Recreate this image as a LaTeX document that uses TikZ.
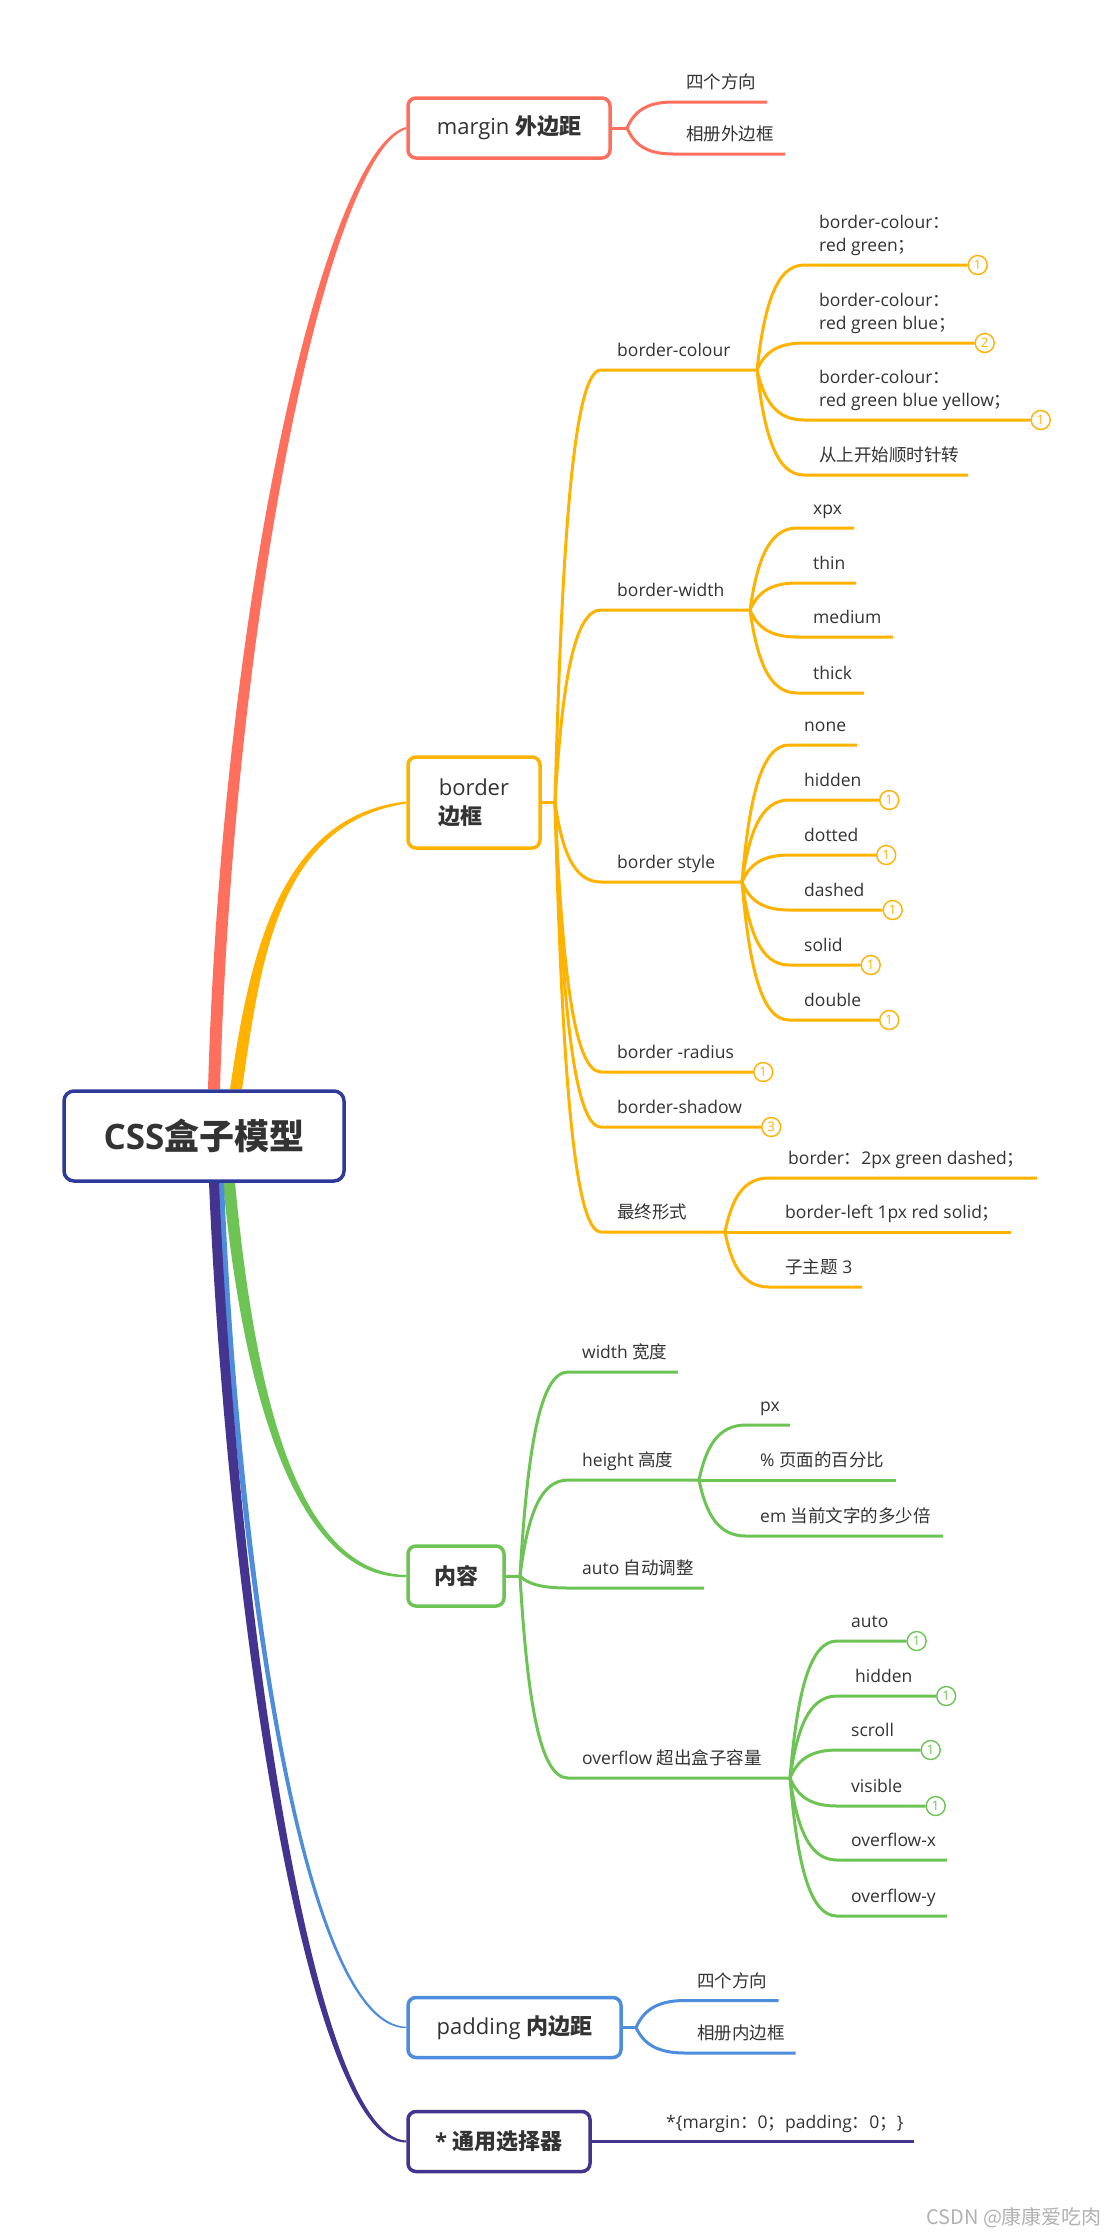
\documentclass[tikz,border=0pt]{standalone}
\usepackage{fontspec}
\setmainfont{Open Sans}
\newfontfamily\cjk{Noto Sans CJK SC}
\usetikzlibrary{calc}

\definecolor{txt}{HTML}{333333}
\definecolor{cRed}{HTML}{FE6F5E}
\definecolor{cOrg}{HTML}{FFB300}
\definecolor{cGrn}{HTML}{6DC455}
\definecolor{cBlu}{HTML}{4D8DDB}
\definecolor{cNav}{HTML}{45348F}
\definecolor{cRoot}{HTML}{2D3A9A}

\pgfdeclarelayer{bg}
\pgfdeclarelayer{limbs}
\pgfsetlayers{bg,limbs,main}

\tikzset{
  topic/.style={draw=#1, line width=3.5pt, rounded corners=8pt, fill=white,
    minimum height=60pt, inner sep=0pt, text=txt, font=\fontsize{22}{29}\selectfont},
  leaf/.style={anchor=base west, inner sep=0pt, text=txt, font=\fontsize{17.5}{23}\selectfont},
  sub/.style={draw=#1, line width=3pt},
  badge/.style={circle, draw=#1, fill=white, line width=1.4pt, text=#1, minimum size=19pt,
    inner sep=0pt, anchor=west, font=\fontsize{13}{13}\selectfont},
  twig/.style={to path={let \p1=(\tikztostart), \p2=(\tikztotarget) in
    .. controls ({\x1+0.15*(\x2-\x1)},{\y1+0.6*(\y2-\y1)}) and ({\x1+0.4*(\x2-\x1)},\y2) .. (\tikztotarget) \tikztonodes}},
}

\begin{document}
\begin{tikzpicture}[x=1pt,y=-1pt]
\begin{pgfonlayer}{bg}
\fill[white] (0,0) rectangle (1111,2235);
\end{pgfonlayer}
\useasboundingbox (0,0) rectangle (1111,2235);

% root and main topics
\node[topic=cRoot, rounded corners=10pt, minimum width=280pt, minimum height=90pt,
  font=\bfseries\fontsize{35}{40}\selectfont] (root) at (204,1136) {CSS{\cjk 盒子模型}};
\node[topic=cRed, minimum width=202pt] (margin) at (509,128) {margin {\cjk\bfseries 外边距}};
\node[topic=cOrg, minimum width=132pt, minimum height=91pt, align=left] (border) at (474,802.5) {border\\{\cjk\bfseries 边框}};
\node[topic=cGrn, minimum width=96pt] (content) at (456,1576) {\cjk\bfseries 内容};
\node[topic=cBlu, minimum width=213pt] (padding) at (514.5,2027.5) {padding {\cjk\bfseries 内边距}};
\node[topic=cNav, minimum width=182pt] (univ) at (499,2141.5) {\bfseries * {\cjk 通用选择器}};

% main branches
\begin{pgfonlayer}{limbs}
\fill[cRed] ([xshift=4pt]root.north) .. controls +(14,-491) and +(-81,20) .. ([yshift=1pt]margin.west)
  -- ([yshift=-1pt]margin.west) .. controls +(-75,24) and +(14,-491) .. ([xshift=16pt]root.north) -- cycle;
\fill[cOrg] ([xshift=26pt]root.north) .. controls +(19,-131) and +(-128,14) .. ([yshift=1pt]border.west)
  -- ([yshift=-1pt]border.west) .. controls +(-128,20) and +(19,-131) .. ([xshift=38pt]root.north) -- cycle;
\fill[cGrn] ([xshift=19pt]root.south) .. controls +(21,219) and +(-108,3) .. ([yshift=-1pt]content.west)
  -- ([yshift=1pt]content.west) .. controls +(-108,-3) and +(21,219) .. ([xshift=31pt]root.south) -- cycle;
\fill[cBlu] ([xshift=14pt]root.south) .. controls +(14,349) and +(-109,0) .. ([yshift=-0.7pt]padding.west)
  -- ([yshift=0.7pt]padding.west) .. controls +(-107,-4) and +(14,349) .. ([xshift=20pt]root.south) -- cycle;
\fill[cNav] ([xshift=5pt]root.south) .. controls +(18,419) and +(-101,1) .. ([yshift=-1pt]univ.west)
  -- ([yshift=1pt]univ.west) .. controls +(-95,-3) and +(18,419) .. ([xshift=15pt]root.south) -- cycle;
\end{pgfonlayer}

% margin
\coordinate (fm) at (627,128);
\coordinate (m1) at (673,102);
\coordinate (m2) at (673,154);
\node[leaf] (m1t) at (686,88.5) {\cjk 四个方向};
\node[leaf] (m2t) at (686,140.5) {\cjk 相册外边框};
\draw[sub=cRed] (margin.east) -- (fm);
\draw[sub=cRed] (fm) to[twig] (m1) -- ++(94,0);
\draw[sub=cRed] (fm) to[twig] (m2) -- ++(112,0);

% border
\coordinate (fb) at (555,802.5);
\coordinate (bcol) at (601,370);
\coordinate (bwid) at (601,610);
\coordinate (bsty) at (601,882);
\coordinate (brad) at (601,1072);
\coordinate (bsha) at (601,1127);
\coordinate (bfin) at (601,1232);
\coordinate (fbc) at (757,370);
\coordinate (fbw) at (750,610);
\coordinate (fbs) at (742,882);
\coordinate (fbf) at (725,1232);
\node[leaf] (bcolt) at (617,356.5) {border-colour};
\node[leaf] (bwidt) at (617,596.5) {border-width};
\node[leaf] (bstyt) at (617,868.5) {border style};
\node[leaf] (bradt) at (617,1058.5) {border -radius};
\node[leaf] (bshat) at (617,1113.5) {border-shadow};
\node[leaf] (bfint) at (617,1218.5) {\cjk 最终形式};
\draw[sub=cOrg] (border.east) -- (fb);
\draw[sub=cOrg] (fb) to[twig] (bcol) -- (fbc);
\draw[sub=cOrg] (fb) to[twig] (bwid) -- (fbw);
\draw[sub=cOrg] (fb) to[twig] (bsty) -- (fbs);
\draw[sub=cOrg] (fb) to[twig] (brad) -- ++(152,0) node[badge=cOrg] {1};
\draw[sub=cOrg] (fb) to[twig] (bsha) -- ++(160,0) node[badge=cOrg] {3};
\draw[sub=cOrg] (fb) to[twig] (bfin) -- (fbf);

% border-colour
\coordinate (c1) at (804,265);
\coordinate (c2) at (804,343);
\coordinate (c3) at (804,420);
\coordinate (c4) at (804,475);
\node[leaf] (c1t) at (819,251.5) {\begin{tabular}[b]{@{}l@{}}border-colour{\cjk ：}\\red green{\cjk ；}\end{tabular}};
\node[leaf] (c2t) at (819,329.5) {\begin{tabular}[b]{@{}l@{}}border-colour{\cjk ：}\\red green blue{\cjk ；}\end{tabular}};
\node[leaf] (c3t) at (819,406.5) {\begin{tabular}[b]{@{}l@{}}border-colour{\cjk ：}\\red green blue yellow{\cjk ；}\end{tabular}};
\node[leaf] (c4t) at (819,461.5) {\cjk 从上开始顺时针转};
\draw[sub=cOrg] (fbc) to[twig] (c1) -- ++(163.5,0) node[badge=cOrg] {1};
\draw[sub=cOrg] (fbc) to[twig] (c2) -- ++(170.5,0) node[badge=cOrg] {2};
\draw[sub=cOrg] (fbc) to[twig] (c3) -- ++(226.5,0) node[badge=cOrg] {1};
\draw[sub=cOrg] (fbc) to[twig] (c4) -- ++(164,0);

% border-width
\coordinate (w1) at (797,528);
\coordinate (w2) at (797,583);
\coordinate (w3) at (797,637);
\coordinate (w4) at (797,693);
\node[leaf] (w1t) at (813,514.5) {xpx};
\node[leaf] (w2t) at (813,569.5) {thin};
\node[leaf] (w3t) at (813,623.5) {medium};
\node[leaf] (w4t) at (813,679.5) {thick};
\draw[sub=cOrg] (fbw) to[twig] (w1) -- ++(57,0);
\draw[sub=cOrg] (fbw) to[twig] (w2) -- ++(59,0);
\draw[sub=cOrg] (fbw) to[twig] (w3) -- ++(96,0);
\draw[sub=cOrg] (fbw) to[twig] (w4) -- ++(67,0);

% border style
\coordinate (s1) at (789,745);
\coordinate (s2) at (789,800);
\coordinate (s3) at (789,855);
\coordinate (s4) at (789,910);
\coordinate (s5) at (789,965);
\coordinate (s6) at (789,1020);
\node[leaf] (s1t) at (804,731.5) {none};
\node[leaf] (s2t) at (804,786.5) {hidden};
\node[leaf] (s3t) at (804,841.5) {dotted};
\node[leaf] (s4t) at (804,896.5) {dashed};
\node[leaf] (s5t) at (804,951.5) {solid};
\node[leaf] (s6t) at (804,1006.5) {double};
\draw[sub=cOrg] (fbs) to[twig] (s1) -- ++(68,0);
\draw[sub=cOrg] (fbs) to[twig] (s2) -- ++(90,0) node[badge=cOrg] {1};
\draw[sub=cOrg] (fbs) to[twig] (s3) -- ++(87,0) node[badge=cOrg] {1};
\draw[sub=cOrg] (fbs) to[twig] (s4) -- ++(93.5,0) node[badge=cOrg] {1};
\draw[sub=cOrg] (fbs) to[twig] (s5) -- ++(71.5,0) node[badge=cOrg] {1};
\draw[sub=cOrg] (fbs) to[twig] (s6) -- ++(90,0) node[badge=cOrg] {1};

% final form
\coordinate (f1) at (769,1178);
\coordinate (f2) at (769,1232);
\coordinate (f3) at (769,1287);
\node[leaf] (f1t) at (788,1164.5) {border{\cjk ：}2px green dashed{\cjk ；}};
\node[leaf] (f2t) at (785,1218.5) {border-left 1px red solid{\cjk ；}};
\node[leaf] (f3t) at (785,1273.5) {{\cjk 子主题} 3};
\draw[sub=cOrg] (fbf) to[twig] (f1) -- ++(268,0);
\draw[sub=cOrg] (fbf) to[twig] (f2) -- ++(242,0);
\draw[sub=cOrg] (fbf) to[twig] (f3) -- ++(93,0);

% content
\coordinate (fc) at (520,1576);
\coordinate (n1) at (568,1372);
\coordinate (n2) at (568,1480);
\coordinate (n3) at (568,1588);
\coordinate (n4) at (568,1778);
\coordinate (fh) at (699,1480);
\coordinate (fo) at (790,1778);
\node[leaf] (n1t) at (582,1358.5) {width {\cjk 宽度}};
\node[leaf] (n2t) at (582,1466.5) {height {\cjk 高度}};
\node[leaf] (n3t) at (582,1574.5) {auto {\cjk 自动调整}};
\node[leaf] (n4t) at (582,1764.5) {overflow {\cjk 超出盒子容量}};
\draw[sub=cGrn] (content.east) -- (fc);
\draw[sub=cGrn] (fc) to[twig] (n1) -- ++(110,0);
\draw[sub=cGrn] (fc) to[twig] (n2) -- (fh);
\draw[sub=cGrn] (fc) to[twig] (n3) -- ++(136,0);
\draw[sub=cGrn] (fc) to[twig] (n4) -- (fo);

% height
\coordinate (h1) at (746,1425);
\coordinate (h2) at (746,1480);
\coordinate (h3) at (746,1536);
\node[leaf] (h1t) at (760,1411.5) {px};
\node[leaf] (h2t) at (760,1466.5) {\% {\cjk 页面的百分比}};
\node[leaf] (h3t) at (760,1522.5) {em {\cjk 当前文字的多少倍}};
\draw[sub=cGrn] (fh) to[twig] (h1) -- ++(44,0);
\draw[sub=cGrn] (fh) to[twig] (h2) -- ++(150,0);
\draw[sub=cGrn] (fh) to[twig] (h3) -- ++(197,0);

% overflow
\coordinate (o1) at (837,1641);
\coordinate (o2) at (837,1696);
\coordinate (o3) at (837,1750);
\coordinate (o4) at (837,1806);
\coordinate (o5) at (837,1860);
\coordinate (o6) at (837,1916);
\node[leaf] (o1t) at (851,1627.5) {auto};
\node[leaf] (o2t) at (855,1682.5) {hidden};
\node[leaf] (o3t) at (851,1736.5) {scroll};
\node[leaf] (o4t) at (851,1792.5) {visible};
\node[leaf] (o5t) at (851,1846.5) {overflow-x};
\node[leaf] (o6t) at (851,1902.5) {overflow-y};
\draw[sub=cGrn] (fo) to[twig] (o1) -- ++(69.5,0) node[badge=cGrn] {1};
\draw[sub=cGrn] (fo) to[twig] (o2) -- ++(99,0) node[badge=cGrn] {1};
\draw[sub=cGrn] (fo) to[twig] (o3) -- ++(83.5,0) node[badge=cGrn] {1};
\draw[sub=cGrn] (fo) to[twig] (o4) -- ++(88.5,0) node[badge=cGrn] {1};
\draw[sub=cGrn] (fo) to[twig] (o5) -- ++(110,0);
\draw[sub=cGrn] (fo) to[twig] (o6) -- ++(110,0);

% padding
\coordinate (fp) at (636,2027.5);
\coordinate (p1) at (685,2000.5);
\coordinate (p2) at (685,2053);
\node[leaf] (p1t) at (697,1987) {\cjk 四个方向};
\node[leaf] (p2t) at (697,2039.5) {\cjk 相册内边框};
\draw[sub=cBlu] (padding.east) -- (fp);
\draw[sub=cBlu] (fp) to[twig] (p1) -- ++(93.5,0);
\draw[sub=cBlu] (fp) to[twig] (p2) -- ++(110.5,0);

% universal selector
\coordinate (u1) at (914,2141.5);
\node[leaf] (u1t) at (666,2128) {*\{margin{\cjk ：}0{\cjk ；}padding{\cjk ：}0{\cjk ；}\}};
\draw[sub=cNav] (univ.east) -- (u1);

\node[anchor=base west, inner sep=0pt, text=black!30, font=\cjk\fontsize{20}{20}\selectfont] (mark) at (926,2224) {CSDN @康康爱吃肉};
\end{tikzpicture}
\end{document}
